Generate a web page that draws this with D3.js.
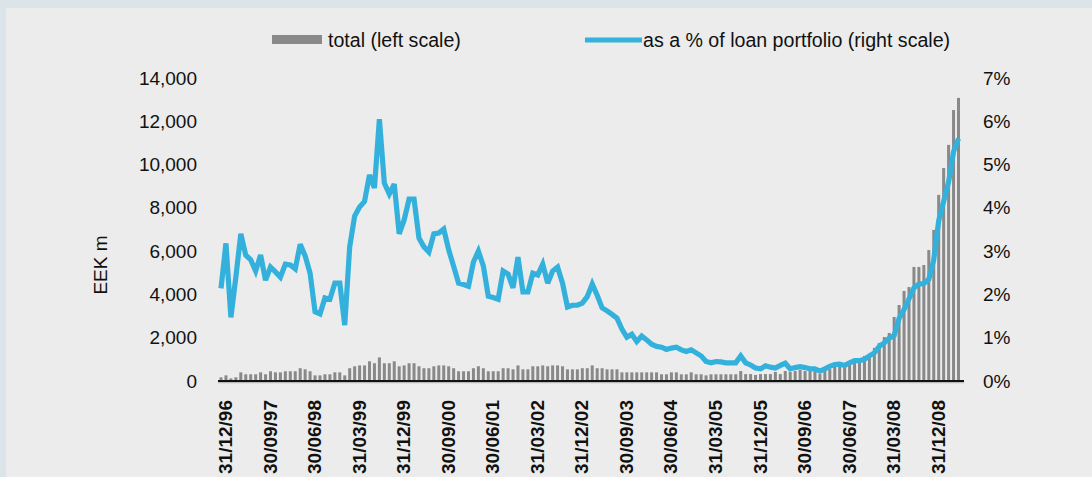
<!DOCTYPE html>
<html>
<head>
<meta charset="utf-8">
<script src="https://cdn.jsdelivr.net/npm/d3@7"></script>
<style>
  html, body { margin: 0; padding: 0; background: #dbe4e9; }
  svg { display: block; }
  text { font-family: "Liberation Sans", Arial, Helvetica, sans-serif; fill: #111; }
</style>
</head>
<body>
<svg id="chart" width="1092" height="477"></svg>
<script>
// Non-performing loans, monthly, end of month (Dec 1996 – May 2009)
const months = d3.timeMonth.range(new Date(1996, 11, 1), new Date(2009, 5, 1));
const categories = months.map(m => d3.timeFormat("%d/%m/%y")(d3.timeDay.offset(d3.timeMonth.offset(m, 1), -1)));

// total, EEK m (left scale)
const totalValues = [
  170, 260, 120, 170, 400, 310, 310, 310, 400, 310,
  450, 400, 400, 450, 450, 450, 590, 540, 450, 260,
  260, 310, 310, 400, 400, 260, 590, 680, 720, 720,
  910, 820, 1090, 820, 820, 910, 680, 720, 820, 820,
  680, 590, 590, 680, 720, 720, 680, 590, 450, 450,
  450, 590, 680, 590, 450, 450, 450, 590, 590, 540,
  720, 540, 540, 680, 680, 720, 680, 720, 720, 680,
  540, 540, 540, 590, 590, 720, 590, 590, 540, 540,
  540, 400, 400, 400, 400, 400, 400, 400, 400, 310,
  310, 400, 400, 310, 310, 400, 310, 310, 260, 310,
  310, 310, 310, 310, 310, 460, 320, 320, 280, 320,
  320, 320, 420, 320, 460, 420, 460, 510, 460, 460,
  460, 320, 510, 550, 650, 740, 650, 880, 970, 1020,
  1160, 1250, 1530, 1760, 2030, 2220, 2960, 3510, 4160, 4340,
  5270, 5270, 5360, 6050, 6980, 8600, 9840, 10910, 12520, 13080
];

// as a % of loan portfolio (right scale)
const shareValues = [
  2.14, 3.18, 1.47, 2.40, 3.40, 2.91, 2.80, 2.54, 2.91, 2.33,
  2.63, 2.52, 2.40, 2.70, 2.68, 2.59, 3.16, 2.89, 2.49, 1.60,
  1.55, 1.92, 1.89, 2.26, 2.26, 1.29, 3.10, 3.81, 4.02, 4.15,
  4.76, 4.46, 6.05, 4.57, 4.32, 4.55, 3.40, 3.72, 4.20, 4.20,
  3.30, 3.10, 2.98, 3.40, 3.42, 3.51, 3.03, 2.65, 2.26, 2.23,
  2.19, 2.75, 3.00, 2.66, 1.96, 1.93, 1.89, 2.54, 2.47, 2.15,
  2.86, 2.06, 2.06, 2.49, 2.45, 2.70, 2.26, 2.54, 2.63, 2.26,
  1.71, 1.75, 1.75, 1.80, 1.95, 2.24, 1.98, 1.69, 1.62, 1.54,
  1.45, 1.20, 1.01, 1.08, 0.91, 1.04, 0.95, 0.85, 0.80, 0.78,
  0.73, 0.76, 0.78, 0.72, 0.68, 0.72, 0.65, 0.58, 0.45, 0.42,
  0.45, 0.44, 0.42, 0.42, 0.42, 0.58, 0.42, 0.37, 0.30, 0.28,
  0.35, 0.32, 0.30, 0.36, 0.41, 0.28, 0.31, 0.33, 0.31, 0.28,
  0.28, 0.23, 0.28, 0.34, 0.38, 0.39, 0.36, 0.42, 0.47, 0.47,
  0.50, 0.58, 0.65, 0.80, 0.88, 0.99, 1.05, 1.45, 1.65, 1.90,
  2.15, 2.24, 2.25, 2.35, 2.80, 3.70, 4.15, 4.60, 5.30, 5.60
];

const leftTicks = [0, 2000, 4000, 6000, 8000, 10000, 12000, 14000];
const rightTicks = [0, 1, 2, 3, 4, 5, 6, 7];
const tickEvery = 9;

const svg = d3.select("#chart");
const W = 1092, H = 477;
const FS = 19;

// panel
svg.append("rect").attr("x", 6).attr("y", 8).attr("width", W - 6).attr("height", H - 8).attr("fill", "#ebeceb");

const x = d3.scalePoint().domain(categories).range([221, 958.5]);
const yL = d3.scaleLinear().domain([0, 14000]).range([381, 78]);
const yR = d3.scaleLinear().domain([0, 7]).range([381, 78]);

// bars
svg.append("g").selectAll("rect").data(totalValues).join("rect")
  .attr("x", (d, i) => x(categories[i]) - 1.5)
  .attr("width", 3)
  .attr("y", d => yL(d))
  .attr("height", d => yL(0) - yL(d))
  .attr("fill", "#898989");

// baseline
svg.append("line").attr("x1", 218).attr("x2", 964).attr("y1", 382.5).attr("y2", 382.5)
  .attr("stroke", "#b9bbbb").attr("stroke-width", 1.5);
svg.append("line").attr("x1", 218).attr("x2", 964).attr("y1", 381).attr("y2", 381)
  .attr("stroke", "#111").attr("stroke-width", 1.8);

// share line
const line = d3.line().x((d, i) => x(categories[i])).y(d => yR(d));
svg.append("path").datum(shareValues)
  .attr("d", line)
  .attr("fill", "none")
  .attr("stroke", "#33b1dc")
  .attr("stroke-width", 5.2)
  .attr("stroke-linejoin", "miter")
  .attr("stroke-miterlimit", 3);

// left axis
const axL = d3.axisLeft(yL).tickValues(leftTicks).tickSize(0).tickPadding(0)
  .tickFormat(d3.format(","));
const gL = svg.append("g").attr("transform", "translate(197,0)").call(axL);
gL.select(".domain").remove();
gL.selectAll("text").attr("font-size", FS).attr("font-family", null).attr("fill", "#111");

// right axis
const axR = d3.axisRight(yR).tickValues(rightTicks).tickSize(0).tickPadding(0)
  .tickFormat(d => d + "%");
const gR = svg.append("g").attr("transform", "translate(983,0)").call(axR);
gR.select(".domain").remove();
gR.selectAll("text").attr("font-size", FS).attr("font-family", null).attr("fill", "#111");

// date labels, every ninth month, reading upwards
const tickCats = categories.filter((c, i) => i % tickEvery === 0);
const axB = d3.axisBottom(x).tickValues(tickCats).tickSize(0).tickPadding(0);
const gB = svg.append("g").call(axB);
gB.select(".domain").remove();
gB.selectAll(".tick text")
  .attr("font-size", FS).attr("font-weight", "bold").attr("font-family", null).attr("fill", "#111")
  .attr("text-anchor", "end")
  .attr("x", 0).attr("y", 0).attr("dy", null)
  .attr("transform", "translate(10.5,400) rotate(-90)");

// left title
svg.append("text").attr("transform", "translate(107,265) rotate(-90)")
  .attr("text-anchor", "middle").attr("font-size", FS).text("EEK m");

// legend
const LFS = 19.6;
svg.append("rect").attr("x", 272).attr("y", 35).attr("width", 50).attr("height", 9).attr("fill", "#898989");
svg.append("text").attr("x", 328).attr("y", 47).attr("font-size", LFS).text("total (left scale)");
svg.append("line").attr("x1", 585).attr("x2", 642).attr("y1", 40).attr("y2", 40)
  .attr("stroke", "#33b1dc").attr("stroke-width", 5);
svg.append("text").attr("x", 643).attr("y", 47).attr("font-size", LFS).text("as a % of loan portfolio (right scale)");
</script>
</body>
</html>
